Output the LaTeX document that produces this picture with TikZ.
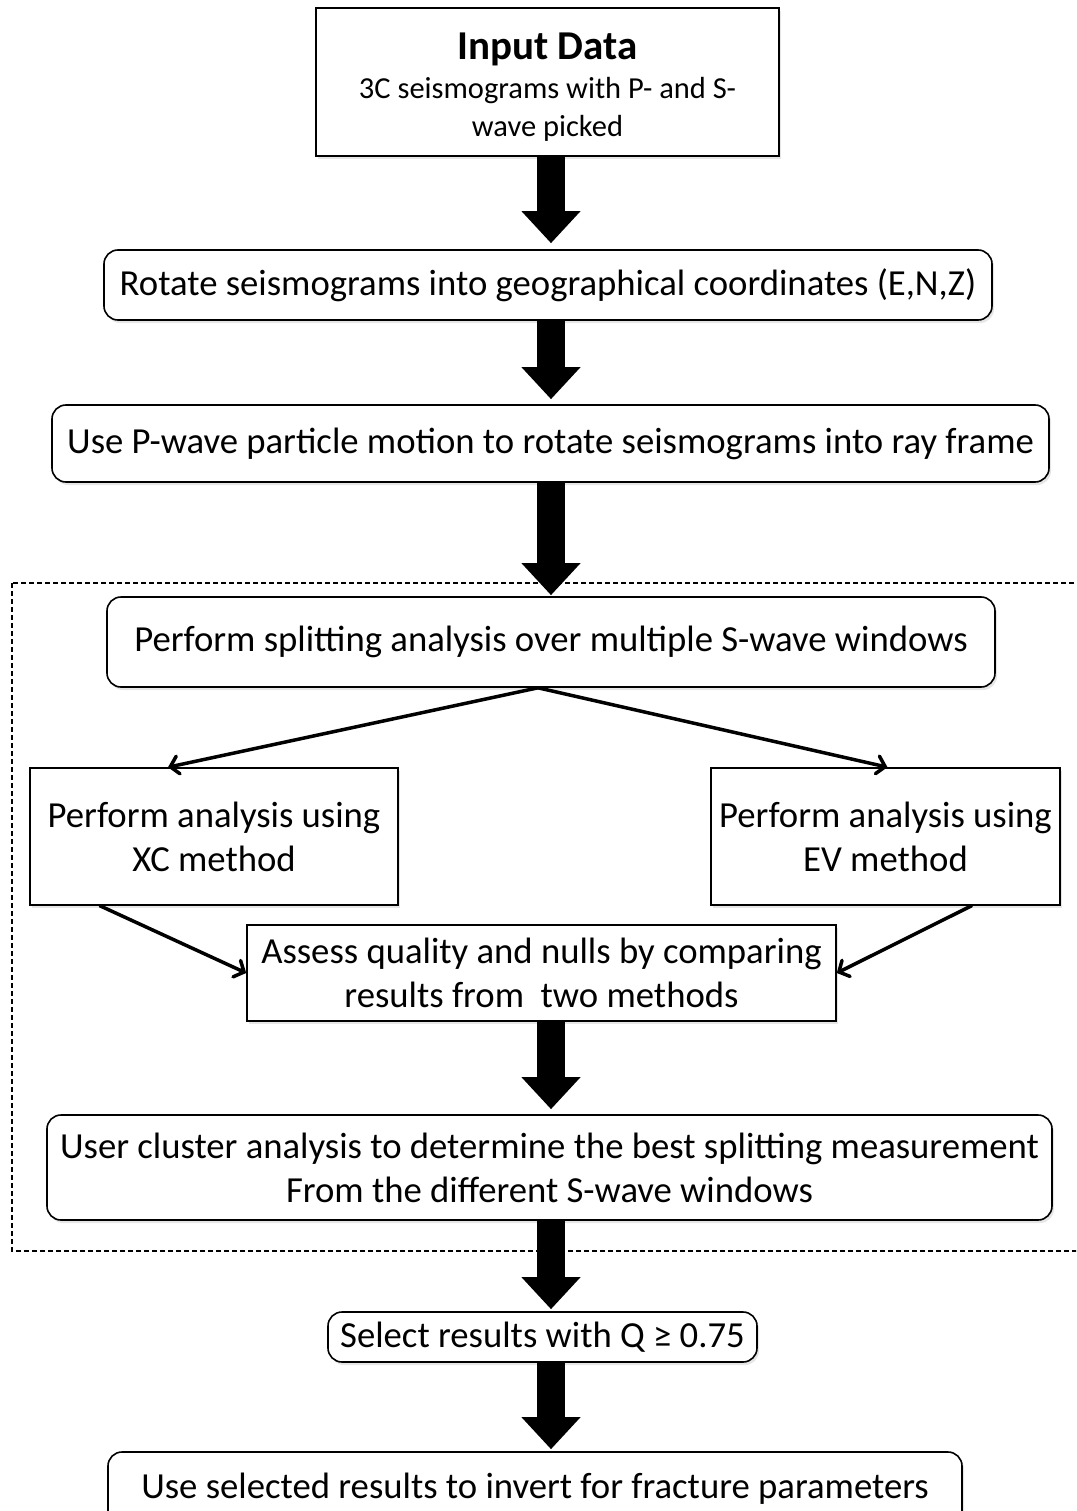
\documentclass[tikz,border=0pt]{standalone}
\usepackage{fontspec}
\setmainfont{Carlito}
\usepackage{tikz}
\usetikzlibrary{arrows.meta}
\usetikzlibrary{shadows}
\tikzset{box/.style = {draw, line width=1.6pt, fill=white, inner sep=0, align=center,
                       font=\fontsize{36.7}{44}\selectfont,
                       drop shadow={opacity=0.2, shadow xshift=2pt, shadow yshift=-3pt}}}
\tikzset{rbox/.style = {box, rounded corners=14pt}}
\tikzset{fat/.style = {line width=28pt, -{Triangle[width=57pt, length=32pt]}}}
\tikzset{thin/.style = {line width=3.5pt, line cap=round,
                        -{Straight Barb[width=18pt, length=8pt, line cap=round]}}}

\begin{document}
\begin{tikzpicture}[x=1pt, y=-1pt]
    \useasboundingbox (0, 0) rectangle (1076, 1511);
    \clip (0, 0) rectangle (1076, 1511);
    \coordinate (ax) at (551, 0);

    \draw [line width=1.4pt, dash pattern=on 5pt off 3pt] (12, 583) rectangle (1095, 1251);

    \node [box, minimum width=463, minimum height=148] (input) at (547.5, 82)
        {\fontsize{41}{47}\selectfont\rule{0pt}{37pt}\textbf{Input Data}\\[-5pt]
         \fontsize{30.5}{37}\selectfont 3C seismograms with P- and S-\\[-6pt]
         \fontsize{30.5}{37}\selectfont wave picked};
    \node [rbox, minimum width=888, minimum height=70] (rotate) at (548, 285)
        {Rotate seismograms into geographical coordinates (E,N,Z)};
    \node [rbox, minimum width=997, minimum height=77] (pwave) at (550.5, 443.5)
        {Use P-wave particle motion to rotate seismograms into ray frame};
    \node [rbox, minimum width=888, minimum height=90] (split) at (551, 642)
        {Perform splitting analysis over multiple S-wave windows};
    \node [box, minimum width=368, minimum height=137] (xc) at (214, 836.5)
        {Perform analysis using\\XC method};
    \node [box, minimum width=349, minimum height=137] (ev) at (885.5, 836.5)
        {Perform analysis using\\EV method};
    \node [box, minimum width=589, minimum height=96] (assess) at (541.5, 973)
        {Assess quality and nulls by comparing\\results from \ two methods};
    \node [rbox, minimum width=1005, minimum height=105] (cluster) at (549.5, 1167.5)
        {User cluster analysis to determine the best splitting measurement\\From the different S-wave windows};
    \node [rbox, minimum width=429, minimum height=50] (select) at (542.5, 1337)
        {Select results with Q ≥ 0.75};
    \node [rbox, minimum width=854, minimum height=76] (final) at (535, 1490)
        {\raisebox{8pt}{Use selected results to invert for fracture parameters}};

    \draw [fat] (input.south -| ax) -- ([yshift=6pt]rotate.north -| ax);
    \draw [fat] (rotate.south -| ax) -- ([yshift=5pt]pwave.north -| ax);
    \draw [fat] (pwave.south -| ax) -- ([yshift=1pt]split.north -| ax);
    \draw [fat] (assess.south -| ax) -- ([yshift=5pt]cluster.north -| ax);
    \draw [fat] (cluster.south -| ax) -- ([yshift=2pt]select.north -| ax);
    \draw [fat] (select.south -| ax) -- ([yshift=2pt]final.north -| ax);

    \draw [thin] ([xshift=-13pt]split.south) -- ([xshift=-46pt]xc.north);
    \draw [thin] ([xshift=-13pt]split.south) -- ([xshift=2pt]ev.north);
    \draw [thin] ([xshift=-114pt]xc.south) -- (assess.west);
    \draw [thin] ([xshift=86pt]ev.south) -- (assess.east);
\end{tikzpicture}
\end{document}
